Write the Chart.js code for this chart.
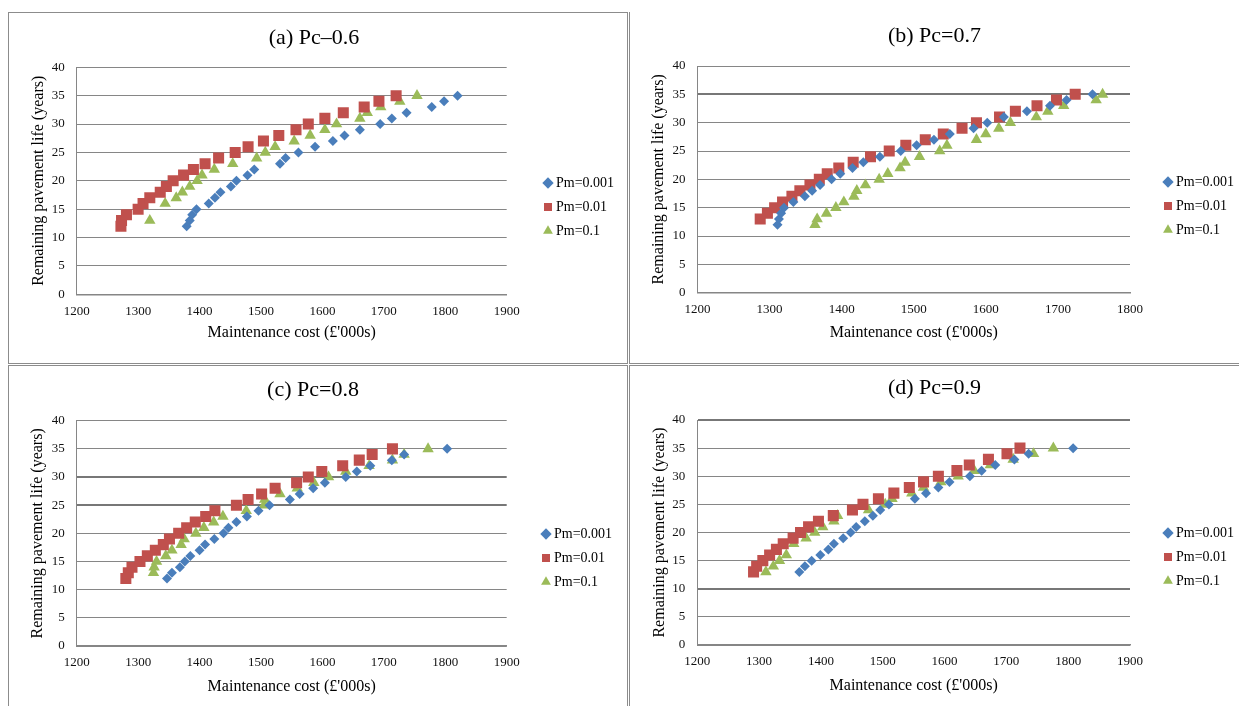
<!DOCTYPE html>
<html>
<head>
<meta charset="utf-8">
<script src="https://cdn.jsdelivr.net/npm/chart.js@4/dist/chart.umd.min.js"></script>
<style>
  html, body { margin: 0; padding: 0; background: #fff; overflow: hidden; }
  body { width: 1239px; height: 706px; position: relative; }
  .frame { position: absolute; box-sizing: border-box; border: 1px solid #8c8c8c; }
  canvas { position: absolute; }
</style>
</head>
<body>
<div class="frame" style="left:8px; top:12px; width:620px; height:352px;"></div>
<div class="frame" style="left:629px; top:12px; width:620px; height:352px; border-top:none;"></div>
<div class="frame" style="left:8px; top:365px; width:620px; height:400px;"></div>
<div class="frame" style="left:629px; top:365px; width:620px; height:400px;"></div>

<canvas id="pa" width="618" height="351" style="left:9px; top:12px;"></canvas>
<canvas id="pb" width="612" height="351" style="left:630px; top:12px;"></canvas>
<canvas id="pc" width="618" height="341" style="left:9px; top:365px;"></canvas>
<canvas id="pd" width="612" height="341" style="left:630px; top:365px;"></canvas>

<script>
// series labels
const seriesNames = ['Pm=0.001', 'Pm=0.01', 'Pm=0.1'];

// (a) Pc=0.6
const costA1 = [1379, 1384, 1388, 1395, 1415, 1425, 1434, 1451, 1460, 1478, 1489, 1531, 1540, 1561, 1588, 1617, 1636, 1661, 1694, 1713, 1737, 1778, 1798, 1820];
const lifeA1 = [12, 13, 14, 15, 16, 17, 18, 19, 20, 21, 22, 23, 24, 25, 26, 27, 28, 29, 30, 31, 32, 33, 34, 35];
const costA2 = [1272, 1273, 1281, 1300, 1308, 1319, 1336, 1346, 1357, 1374, 1390, 1409, 1431, 1458, 1479, 1504, 1529, 1557, 1577, 1604, 1634, 1668, 1692, 1720];
const lifeA2 = [12, 13, 14, 15, 16, 17, 18, 19, 20, 21, 22, 23, 24, 25, 26, 27, 28, 29, 30, 31, 32, 33, 34, 35];
const costA3 = [1319, 1344, 1362, 1372, 1384, 1396, 1404, 1424, 1454, 1493, 1507, 1523, 1554, 1580, 1604, 1623, 1661, 1673, 1695, 1726, 1754];
const lifeA3 = [13, 16, 17, 18, 19, 20, 21, 22, 23, 24, 25, 26, 27, 28, 29, 30, 31, 32, 33, 34, 35];

// (b) Pc=0.7
const costB1 = [1311, 1313, 1316, 1320, 1333, 1349, 1359, 1370, 1386, 1398, 1415, 1430, 1453, 1482, 1504, 1528, 1550, 1583, 1602, 1625, 1657, 1689, 1712, 1748];
const lifeB1 = [12, 13, 14, 15, 16, 17, 18, 19, 20, 21, 22, 23, 24, 25, 26, 27, 28, 29, 30, 31, 32, 33, 34, 35];
const costB2 = [1287, 1297, 1307, 1318, 1331, 1342, 1356, 1369, 1380, 1396, 1416, 1440, 1466, 1489, 1516, 1541, 1567, 1587, 1619, 1641, 1671, 1698, 1724];
const lifeB2 = [13, 14, 15, 16, 17, 18, 19, 20, 21, 22, 23, 24, 25, 26, 27, 28, 29, 30, 31, 32, 33, 34, 35];
const costB3 = [1363, 1366, 1379, 1392, 1403, 1417, 1421, 1433, 1452, 1464, 1481, 1488, 1508, 1536, 1546, 1587, 1600, 1618, 1634, 1670, 1686, 1708, 1753, 1762];
const lifeB3 = [12, 13, 14, 15, 16, 17, 18, 19, 20, 21, 22, 23, 24, 25, 26, 27, 28, 29, 30, 31, 32, 33, 34, 35];

// (c) Pc=0.8
const costC1 = [1347, 1355, 1368, 1376, 1385, 1400, 1409, 1424, 1439, 1447, 1460, 1477, 1496, 1514, 1547, 1563, 1585, 1604, 1638, 1656, 1678, 1713, 1733, 1803];
const lifeC1 = [12, 13, 14, 15, 16, 17, 18, 19, 20, 21, 22, 23, 24, 25, 26, 27, 28, 29, 30, 31, 32, 33, 34, 35];
const costC2 = [1280, 1284, 1290, 1303, 1315, 1328, 1341, 1351, 1366, 1379, 1393, 1410, 1425, 1460, 1479, 1501, 1523, 1558, 1577, 1599, 1633, 1660, 1681, 1714];
const lifeC2 = [12, 13, 14, 15, 16, 17, 18, 19, 20, 21, 22, 23, 24, 25, 26, 27, 28, 29, 30, 31, 32, 33, 34, 35];
const costC3 = [1325, 1326, 1330, 1345, 1355, 1370, 1375, 1394, 1407, 1423, 1438, 1476, 1505, 1506, 1531, 1559, 1586, 1610, 1638, 1676, 1714, 1733, 1772];
const lifeC3 = [13, 14, 15, 16, 17, 18, 19, 20, 21, 22, 23, 24, 25, 26, 27, 28, 29, 30, 31, 32, 33, 34, 35];

// (d) Pc=0.9
const costD1 = [1365, 1374, 1385, 1399, 1412, 1421, 1436, 1448, 1457, 1471, 1484, 1496, 1510, 1552, 1570, 1590, 1608, 1641, 1660, 1682, 1713, 1736, 1808];
const lifeD1 = [13, 14, 15, 16, 17, 18, 19, 20, 21, 22, 23, 24, 25, 26, 27, 28, 29, 30, 31, 32, 33, 34, 35];
const costD2 = [1291, 1296, 1306, 1317, 1328, 1339, 1355, 1367, 1380, 1396, 1420, 1451, 1468, 1493, 1518, 1543, 1566, 1590, 1620, 1640, 1671, 1701, 1722];
const lifeD2 = [13, 14, 15, 16, 17, 18, 19, 20, 21, 22, 23, 24, 25, 26, 27, 28, 29, 30, 31, 32, 33, 34, 35];
const costD3 = [1311, 1323, 1333, 1344, 1356, 1376, 1390, 1403, 1421, 1427, 1477, 1504, 1515, 1547, 1566, 1594, 1622, 1648, 1674, 1711, 1744, 1776];
const lifeD3 = [13, 14, 15, 16, 18, 19, 20, 21, 22, 23, 24, 25, 26, 27, 28, 29, 30, 31, 32, 33, 34, 35];

const SERIF = "'Liberation Serif', 'Times New Roman', serif";
const GRID = '#868686';
const markers = [
  { pointStyle: 'rectRot', radius: 5, color: '#4a7ebb' },
  { pointStyle: 'rect', radius: 7.8, color: '#c0504d' },
  { pointStyle: 'triangle', radius: 6.6, color: '#9bbb59' }
];

Chart.defaults.font.family = SERIF;
Chart.defaults.color = '#000';

function makePanel(id, title, xMax, series, g) {
  const datasets = series.map(([xs, ys], i) => ({
    label: seriesNames[i],
    data: xs.map((x, k) => ({ x, y: ys[k] })),
    pointStyle: markers[i].pointStyle,
    pointRadius: markers[i].radius,
    backgroundColor: markers[i].color,
    borderColor: markers[i].color,
    borderWidth: 0,
    showLine: false,
    yAxisID: 'y'
  }));

  return new Chart(document.getElementById(id), {
    type: 'scatter',
    data: { datasets },
    options: {
      responsive: false,
      animation: false,
      layout: { padding: { left: 0, right: g.padRight, top: 0, bottom: 0 } },
      plugins: {
        title: {
          display: true,
          text: title,
          color: '#000',
          font: { size: 22, weight: 'normal' },
          padding: { top: g.titleTop, bottom: g.titleBottom }
        },
        legend: {
          position: 'right',
          align: 'center',
          maxWidth: 82,
          // empty legend title only pushes the items down to where Excel put them
          title: { display: true, text: '', font: { size: 1 }, padding: { top: g.legendShift - 1.2, bottom: 0 } },
          labels: {
            usePointStyle: true,
            boxWidth: 2,
            boxHeight: 8,
            padding: 10,
            color: '#000',
            font: { size: 14 }
          }
        },
        tooltip: { enabled: false }
      },
      scales: {
        x: {
          type: 'linear',
          min: 1200,
          max: xMax,
          ticks: {
            stepSize: 100, padding: 9, maxRotation: 0, autoSkip: false,
            color: '#111', font: { size: 13 },
            callback: v => String(v)
          },
          grid: { display: false, drawTicks: false },
          border: { display: true, color: GRID, width: 1.5 },
          title: {
            display: true,
            text: "Maintenance cost (£'000s)",
            color: '#000',
            font: { size: 16 },
            padding: { top: 0, bottom: g.xTitleBottom }
          },
          afterFit: s => { s.height = g.xAxisH; }
        },
        y: {
          type: 'linear',
          min: 0,
          max: 40,
          ticks: { stepSize: 5, padding: 12, color: '#111', font: { size: 13 } },
          grid: {
            drawTicks: false,
            color: ctx => g.thick.includes(ctx.tick.value) ? '#777' : GRID,
            lineWidth: ctx => g.thick.includes(ctx.tick.value) ? 2 : 1
          },
          border: { display: true, color: GRID, width: 1 },
          title: {
            display: true,
            text: 'Remaining pavement life (years)',
            color: '#000',
            font: { size: 16 },
            padding: { top: g.yTitleTop, bottom: 0 }
          },
          afterFit: s => { s.width = g.yAxisW; }
        },
        // blank spacer between the plot and the legend
        legendGap: {
          type: 'linear',
          position: 'right',
          display: true,
          grid: { display: false, drawTicks: false },
          ticks: { display: false },
          border: { display: false },
          afterFit: s => { s.width = g.legendGap; }
        }
      }
    }
  });
}

makePanel('pa', '(a) Pc\u20130.6', 1900,
  [[costA1, lifeA1], [costA2, lifeA2], [costA3, lifeA3]],
  { padRight: 8, titleTop: 12.8, titleBottom: 16.1, legendShift: 39, legendGap: 30.3,
    xAxisH: 68.7, xTitleBottom: 20.4, yAxisW: 67.7, yTitleTop: 20.4, thick: [] });

makePanel('pb', '(b) Pc=0.7', 1800,
  [[costB1, lifeB1], [costB2, lifeB2], [costB3, lifeB3]],
  { padRight: 3, titleTop: 11.5, titleBottom: 16.1, legendShift: 37, legendGap: 27,
    xAxisH: 70.3, xTitleBottom: 20.4, yAxisW: 67.5, yTitleTop: 19.4, thick: [35] });

makePanel('pc', '(c) Pc=0.8', 1900,
  [[costC1, lifeC1], [costC2, lifeC2], [costC3, lifeC3]],
  { padRight: 10, titleTop: 11.8, titleBottom: 17.5, legendShift: 45, legendGap: 28.3,
    xAxisH: 60, xTitleBottom: 9.4, yAxisW: 67.7, yTitleTop: 19, thick: [30, 25] });

makePanel('pd', '(d) Pc=0.9', 1900,
  [[costD1, lifeD1], [costD2, lifeD2], [costD3, lifeD3]],
  { padRight: 3, titleTop: 9.8, titleBottom: 18.8, legendShift: 43, legendGap: 27,
    xAxisH: 61, xTitleBottom: 10.4, yAxisW: 67.3, yTitleTop: 19.8, thick: [40, 10] });
</script>
</body>
</html>
